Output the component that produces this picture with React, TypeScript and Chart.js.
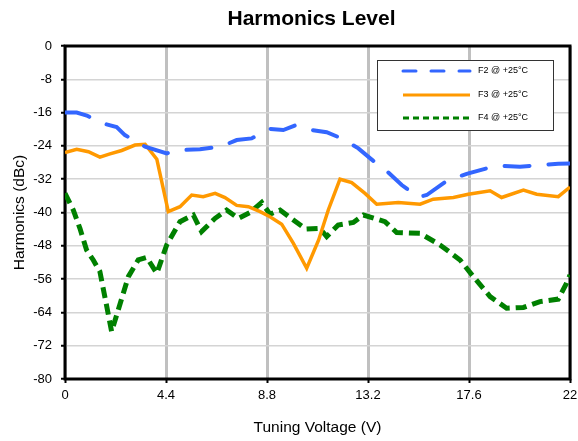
import React, { useEffect, useRef } from "react";
import { Chart, registerables } from "chart.js";

Chart.register(...registerables);

const chartTitle = "Harmonics Level";
const xAxisTitle = "Tuning Voltage (V)";
const yAxisTitle = "Harmonics (dBc)";

const xTickValues = [0, 4.4, 8.8, 13.2, 17.6, 22];
const xTickLabels = ["0", "4.4", "8.8", "13.2", "17.6", "22"];

const f2Label = "F2 @ +25°C";
const f2Volts = [0, 0.51, 0.95, 1.52, 2.25, 2.61, 3.49, 4.43, 5.01, 5.88, 6.75, 7.04, 7.48, 8.13, 8.93, 9.51, 10.02, 10.53, 11.4, 12.05, 12.78, 13.43, 14.01, 14.67, 15.39, 15.76, 16.63, 17.5, 18.37, 19.02, 19.82, 20.69, 21.49, 22];
const f2Values = [-16.0, -16.0, -16.7, -18.4, -19.5, -21.4, -24.2, -25.8, -25.0, -24.8, -24.2, -23.6, -22.6, -22.2, -19.9, -20.2, -19.1, -20.0, -20.7, -22.2, -24.6, -27.6, -30.0, -33.4, -36.3, -35.8, -32.4, -30.7, -29.4, -28.8, -29.0, -28.6, -28.3, -28.2];

const f3Label = "F3 @ +25°C";
const f3Volts = [0, 0.51, 1.02, 1.52, 1.96, 2.47, 3.05, 3.49, 4.0, 4.5, 5.01, 5.52, 6.02, 6.54, 6.97, 7.48, 7.99, 8.5, 8.93, 9.44, 9.95, 10.53, 11.05, 11.47, 11.98, 12.49, 13.07, 13.58, 14.52, 15.47, 16.04, 16.92, 17.57, 18.52, 19.02, 19.97, 20.55, 21.49, 22];
const f3Values = [-25.6, -24.8, -25.4, -26.7, -25.9, -25.1, -23.8, -23.6, -27.2, -39.8, -38.6, -35.8, -36.2, -35.4, -36.4, -38.3, -38.6, -39.8, -41.0, -42.8, -47.4, -53.4, -46.6, -39.4, -32.0, -32.8, -35.4, -38.0, -37.6, -38.0, -36.8, -36.4, -35.6, -34.8, -36.4, -34.6, -35.6, -36.2, -33.9];

const f4Label = "F4 @ +25°C";
const f4Volts = [0, 0.36, 0.65, 0.94, 1.23, 1.52, 1.82, 2.03, 2.32, 2.76, 3.19, 3.56, 4.0, 4.43, 5.01, 5.59, 5.95, 6.54, 7.04, 7.55, 8.06, 8.57, 8.93, 9.37, 9.95, 10.5, 11.1, 11.4, 11.9, 12.56, 13.0, 13.94, 14.45, 15.47, 16.34, 17.21, 17.79, 18.52, 19.24, 19.97, 20.69, 21.49, 21.85, 22];
const f4Values = [-35.4, -39.4, -43.8, -49.0, -51.4, -54.2, -62.6, -68.6, -63.4, -55.4, -51.4, -50.8, -54.6, -47.8, -42.2, -40.6, -44.6, -41.4, -39.4, -41.4, -40.0, -37.6, -40.4, -39.4, -41.8, -44.0, -43.8, -45.8, -43.0, -42.4, -40.6, -42.2, -44.8, -45.0, -47.8, -51.4, -55.4, -60.2, -63.0, -62.8, -61.4, -60.8, -57.0, -55.0];

const FONT = "'Liberation Sans', Arial, sans-serif";

const toPoints = (xs: number[], ys: number[]) => xs.map((x, i) => ({ x, y: ys[i] }));

const framePlugin = {
  id: "frameAndText",
  beforeDatasetsDraw(chart: any) {
    const { ctx, chartArea } = chart;
    ctx.save();
    ctx.strokeStyle = "#000";
    ctx.lineWidth = 3;
    ctx.strokeRect(chartArea.left, chartArea.top, chartArea.right - chartArea.left, chartArea.bottom - chartArea.top);
    ctx.restore();
  },
  afterDraw(chart: any) {
    const { ctx, chartArea } = chart;
    ctx.save();
    ctx.fillStyle = "#000";
    ctx.font = `bold 21px ${FONT}`;
    ctx.textAlign = "center";
    ctx.textBaseline = "middle";
    ctx.fillText(chartTitle, (chartArea.left + chartArea.right) / 2 - 6, 19);

    const bx = 377, by = 60, bw = 176, bh = 70;
    ctx.fillStyle = "#fff";
    ctx.fillRect(bx, by, bw, bh);
    ctx.strokeStyle = "#333";
    ctx.lineWidth = 1;
    ctx.strokeRect(bx + 0.5, by + 0.5, bw, bh);
    const rows = [71, 95, 118];
    const legendDash = [[13, 15], [], [6, 4]];
    const legendCap = ["round", "butt", "butt"];
    chart.data.datasets.forEach((ds: any, i: number) => {
      const y = rows[i];
      ctx.beginPath();
      ctx.strokeStyle = ds.borderColor;
      ctx.lineWidth = 3;
      ctx.lineCap = legendCap[i];
      ctx.setLineDash(legendDash[i]);
      ctx.moveTo(403, y);
      ctx.lineTo(470, y);
      ctx.stroke();
      ctx.setLineDash([]);
      ctx.fillStyle = "#000";
      ctx.font = `9px ${FONT}`;
      ctx.textAlign = "left";
      ctx.textBaseline = "middle";
      ctx.fillText(ds.label, 478, y);
    });
    ctx.restore();
  },
};

export default function App() {
  const canvasRef = useRef<HTMLCanvasElement | null>(null);

  useEffect(() => {
    if (!canvasRef.current) return;
    const chart = new Chart(canvasRef.current, {
      type: "line",
      data: {
        datasets: [
          {
            label: f2Label,
            data: toPoints(f2Volts, f2Values),
            borderColor: "#3366FF",
            borderWidth: 4,
            borderDash: [25, 19],
            borderCapStyle: "round",
            pointRadius: 0,
            tension: 0,
          },
          {
            label: f3Label,
            data: toPoints(f3Volts, f3Values),
            borderColor: "#FF9900",
            borderWidth: 3.5,
            pointRadius: 0,
            tension: 0,
          },
          {
            label: f4Label,
            data: toPoints(f4Volts, f4Values),
            borderColor: "#008000",
            borderWidth: 5,
            borderDash: [11, 6],
            borderCapStyle: "butt",
            pointRadius: 0,
            tension: 0,
          },
        ],
      },
      options: {
        animation: false,
        responsive: false,
        maintainAspectRatio: false,
        layout: { padding: { top: 46, right: 8, left: 0, bottom: 0 } },
        plugins: {
          legend: { display: false },
          title: { display: false },
          tooltip: { enabled: false },
        },
        scales: {
          x: {
            type: "linear",
            min: 0,
            max: 22,
            afterBuildTicks: (scale: any) => {
              scale.ticks = xTickValues.map((v) => ({ value: v }));
            },
            afterFit: (scale: any) => {
              scale.height = 62;
              scale.paddingLeft = 0;
              scale.paddingRight = 0;
            },
            ticks: {
              color: "#000",
              font: { family: FONT, size: 13 },
              padding: 5,
              maxRotation: 0,
              autoSkip: false,
              callback: (v: any) => {
                const i = xTickValues.findIndex((t) => Math.abs(t - v) < 1e-6);
                return i >= 0 ? xTickLabels[i] : "";
              },
            },
            grid: {
              color: "#c0c0c0",
              lineWidth: 3,
              tickColor: "#000",
              tickLength: 4,
              tickWidth: 2,
            },
            border: { display: false },
            title: {
              display: true,
              text: xAxisTitle,
              color: "#000",
              font: { family: FONT, size: 15.5 },
              padding: { top: 0, bottom: 4 },
            },
          },
          y: {
            type: "linear",
            min: -80,
            max: 0,
            ticks: {
              stepSize: 8,
              color: "#000",
              font: { family: FONT, size: 13 },
              padding: 9,
            },
            afterFit: (scale: any) => {
              scale.width = 65;
              scale.paddingTop = 0;
              scale.paddingBottom = 0;
            },
            grid: {
              color: "#d4d4d4",
              lineWidth: 1.5,
              tickColor: "#000",
              tickLength: 4,
              tickWidth: 2,
            },
            border: { display: false },
            title: {
              display: true,
              text: yAxisTitle,
              color: "#000",
              font: { family: FONT, size: 15.5 },
              padding: { top: 10, bottom: 0 },
            },
          },
        },
      },
      plugins: [framePlugin],
    } as any);
    return () => chart.destroy();
  }, []);

  return (
    <div style={{ position: "fixed", left: 0, top: 0, width: 578, height: 441, background: "#fff" }}>
      <canvas ref={canvasRef} width={578} height={441} style={{ width: 578, height: 441, display: "block" }} />
    </div>
  );
}
